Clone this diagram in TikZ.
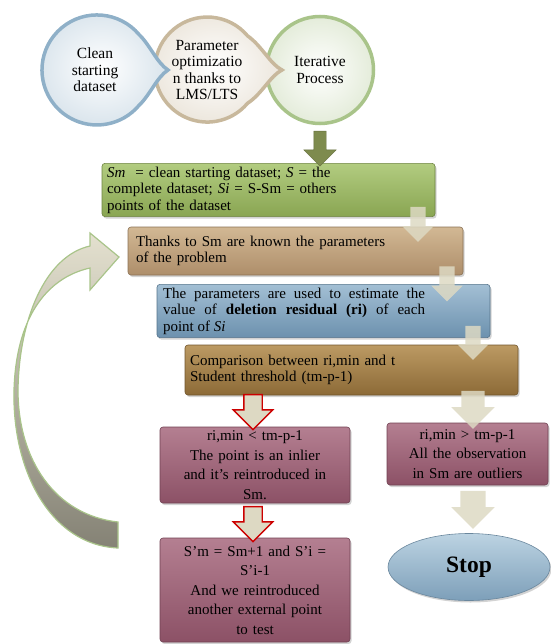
\documentclass[tikz,border=0pt]{standalone}
\usepackage{fontspec}
\setmainfont{Liberation Serif}
\usetikzlibrary{shapes.arrows,shapes.geometric,shadows}

\definecolor{ringblue}{HTML}{8FB0C8}
\definecolor{ringtan}{HTML}{C8B89C}
\definecolor{ringgreen}{HTML}{A9C48A}
\definecolor{fillblue}{HTML}{D9E4EC}
\definecolor{filltan}{HTML}{ECE6DC}
\definecolor{fillgreen}{HTML}{E4ECDA}
\definecolor{olivearr}{HTML}{7E8B4E}
\definecolor{lightarr}{HTML}{DDD9C3}
\definecolor{greentop}{HTML}{B2CC80}
\definecolor{greenbot}{HTML}{89A552}
\definecolor{tantop}{HTML}{D2B894}
\definecolor{tanbot}{HTML}{AE8E6A}
\definecolor{bluetop}{HTML}{A3BFD4}
\definecolor{bluebot}{HTML}{6C91AE}
\definecolor{browntop}{HTML}{BC9A63}
\definecolor{brownbot}{HTML}{8C6A37}
\definecolor{pinktop}{HTML}{B47F91}
\definecolor{pinkbot}{HTML}{8C5166}
\definecolor{stoptop}{HTML}{BCD3E2}
\definecolor{stopbot}{HTML}{7D9FB9}
\definecolor{loopedge}{HTML}{A9C48A}

\begin{document}
\begin{tikzpicture}[x=1pt,y=-1pt,
    bubble/.style={align=center, font=\fontsize{15.5}{16.5}\selectfont},
    box/.style 2 args={rectangle, rounded corners=3pt, top color=#1, bottom color=#2,
      draw=#2!80!black, line width=0.6pt,
      drop shadow={opacity=0.35, shadow xshift=1.5pt, shadow yshift=-2pt}},
    textbox/.style={align=left, inner xsep=6pt, font=\fontsize{15}{16.5}\selectfont},
    pinkbox/.style={box={pinktop}{pinkbot}, align=center, inner xsep=4pt,
      font=\fontsize{15}{19.5}\selectfont},
    darr/.style n args={3}{single arrow, shape border rotate=270, inner sep=#1,
      single arrow head extend=#2, minimum height=#3},
    lightdarr/.style={fill=lightarr, fill opacity=0.85, draw=none},
    reddarr/.style={fill=lightarr, draw=red!80!black, line width=1.4pt}
  ]
  \useasboundingbox (0,0) rectangle (550,644);

  \node[circle, draw=ringgreen, line width=3.5pt, inner color=white, outer color=fillgreen,
    minimum size=107pt, bubble] (iter) at (320,70) {Iterative\\Process};

  \path[draw=ringtan, line width=3.5pt, inner color=white, outer color=filltan]
    (247.5,35.8) arc[start angle=40, end angle=320, radius=52.5pt]
    .. controls (262,94) and (270,76) .. (282,70)
    .. controls (270,64) and (262,46) .. cycle;
  \node[bubble] (optim) at (207,70) {Parameter\\optimizatio\\n thanks to\\LMS/LTS};

  \path[draw=ringblue, line width=3.5pt, inner color=white, outer color=fillblue]
    (139.1,34.6) arc[start angle=40, end angle=320, radius=55pt]
    .. controls (150,95) and (157,77) .. (168,70)
    .. controls (157,63) and (150,45) .. cycle;
  \node[bubble] (clean) at (95,70) {Clean\\starting\\dataset};

  \path[draw=loopedge, line width=1.2pt, top color=lightarr!80!white, bottom color=lightarr!60!black]
    (118,522) -- (118,548)
    .. controls (50,545) and (12,470) .. (14,390)
    .. controls (16,320) and (45,278) .. (90,268)
    -- (90,290) -- (119,257) -- (90,233) -- (90,246)
    .. controls (45,256) and (19,320) .. (18,390)
    .. controls (18,460) and (55,515) .. cycle;

  \node[box={greentop}{greenbot}, textbox, inner xsep=5pt, minimum width=333pt, minimum height=50pt,
    text width=323pt] (sm) at (268.5,190)
    {\textit{Sm}\ \ = clean starting dataset; \textit{S}\ = the\\
     complete dataset; \textit{Si} = S-Sm = others\\
     points of the dataset};
  \node[box={tantop}{tanbot}, textbox, inner xsep=8pt, minimum width=335pt, minimum height=48pt,
    text width=319pt] (known) at (295.5,251)
    {Thanks to Sm are known the parameters\\of the problem};
  \node[box={bluetop}{bluebot}, textbox, minimum width=333pt, minimum height=48pt,
    text width=321pt] (resid) at (323.5,311)
    {\spaceskip=0pt\makebox[262pt][s]{The parameters are used to estimate the}\\
     \spaceskip=0pt\makebox[262pt][s]{value of \textbf{deletion residual (ri)} of each}\\
     point of \textit{Si}};
  \node[box={browntop}{brownbot}, textbox, inner xsep=5pt, minimum width=333pt, minimum height=50pt,
    text width=323pt] (compare) at (351.5,370)
    {Comparison between ri,min and t\\Student threshold (tm-p-1)};

  \node[pinkbox, minimum width=190pt, minimum height=76pt, text width=182pt] (inlier) at (255,465)
    {ri,min < tm-p-1\\The point is an inlier\\and it’s reintroduced in\\Sm.};
  \node[pinkbox, minimum width=161pt, minimum height=62pt, text width=153pt] (outlier) at (467.5,454)
    {ri,min > tm-p-1\\All the observation\\in Sm are outliers};
  \node[pinkbox, minimum width=190pt, minimum height=104pt, text width=182pt] (update) at (255,590)
    {S’m = Sm+1 and S’i =\\S’i-1\\And we reintroduced\\another external point\\to test};

  \node[ellipse, minimum width=162pt, minimum height=67pt, top color=stoptop, bottom color=stopbot,
    draw=stopbot!85!black, line width=0.6pt,
    drop shadow={opacity=0.35, shadow xshift=1.5pt, shadow yshift=-2pt},
    font=\fontsize{23.5}{26}\selectfont\bfseries] (stop) at (469,567) {Stop};

  \node[darr={6pt}{10pt}{35pt}, fill=olivearr, draw=olivearr!80!black] (a0) at (320,145.5) {};
  \node[darr={7.5pt}{8pt}{35pt}, lightdarr] (a1) at (418,220.5) {};
  \node[darr={7.5pt}{8pt}{35pt}, lightdarr] (a2) at (447,280) {};
  \node[darr={7.5pt}{8pt}{34pt}, lightdarr] (a3) at (473,339) {};
  \node[darr={11.5pt}{10pt}{38pt}, lightdarr] (a4) at (473,404) {};
  \node[darr={12.5pt}{9pt}{37pt}, lightdarr] (a5) at (473,503.5) {};
  \node[darr={8.5pt}{10.5pt}{35pt}, reddarr] (a6) at (253,407.5) {};
  \node[darr={8.5pt}{10.5pt}{35pt}, reddarr] (a7) at (253,519.5) {};
\end{tikzpicture}
\end{document}
